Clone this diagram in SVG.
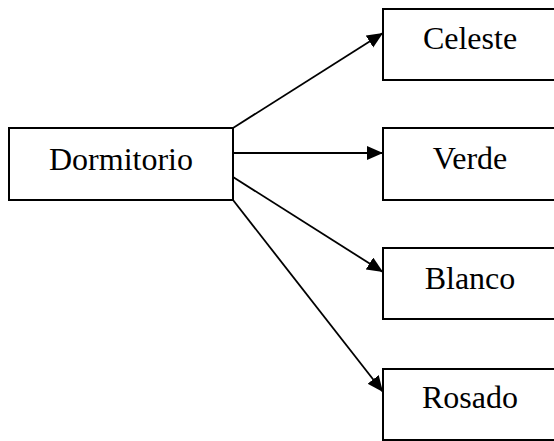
<svg xmlns="http://www.w3.org/2000/svg" width="554" height="441" viewBox="0 0 554 441">
  <style>
    .box { fill: #fff; stroke: #000; stroke-width: 2; }
    .lbl { font-family: "Liberation Serif", "Times New Roman", serif; font-size: 32px; fill: #000; text-anchor: middle; }
    .edge { fill: none; stroke: #000; stroke-width: 1.8; }
  </style>
  <defs>
    <marker id="arrow" markerUnits="userSpaceOnUse" markerWidth="17" markerHeight="15" refX="16" refY="7" orient="auto">
      <path d="M0,0 L16,7 L0,14 Z" fill="#000"/>
    </marker>
  </defs>
  <rect width="554" height="441" fill="#fff"/>

  <g id="edges">
    <line class="edge" x1="233" y1="128" x2="383" y2="33" marker-end="url(#arrow)"/>
    <line class="edge" x1="233" y1="153" x2="383" y2="153" marker-end="url(#arrow)"/>
    <line class="edge" x1="233" y1="177" x2="383" y2="272" marker-end="url(#arrow)"/>
    <line class="edge" x1="233" y1="200" x2="383" y2="392" marker-end="url(#arrow)"/>
  </g>

  <g id="dormitorio">
    <rect class="box" x="9" y="128" width="224" height="72"/>
    <text class="lbl" x="121" y="170">Dormitorio</text>
  </g>
  <g id="celeste">
    <rect class="box" x="383" y="9" width="176" height="71"/>
    <text class="lbl" x="470" y="49">Celeste</text>
  </g>
  <g id="verde">
    <rect class="box" x="383" y="128" width="176" height="72"/>
    <text class="lbl" x="470" y="169">Verde</text>
  </g>
  <g id="blanco">
    <rect class="box" x="383" y="248" width="176" height="71"/>
    <text class="lbl" x="470" y="289">Blanco</text>
  </g>
  <g id="rosado">
    <rect class="box" x="383" y="369" width="176" height="71"/>
    <text class="lbl" x="470" y="408">Rosado</text>
  </g>
</svg>
